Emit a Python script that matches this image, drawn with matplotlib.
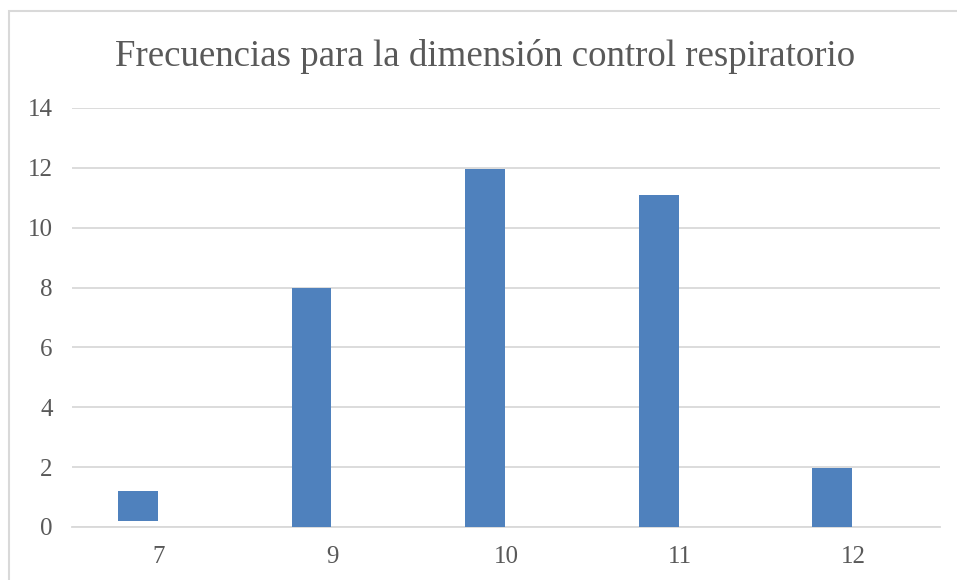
import matplotlib.pyplot as plt
from matplotlib.patches import Rectangle

categories = ['7', '9', '10', '11', '12']
frecuencias = [1.0, 8.0, 11.97, 11.1, 1.97]
bases = [0.2, 0.0, 0.0, 0.0, 0.0]
yticks = [0, 2, 4, 6, 8, 10, 12, 14]

plt.rcParams['font.family'] = ['Liberation Serif', 'DejaVu Serif']

fig = plt.figure(figsize=(9.57, 5.8), dpi=100)
ax = fig.add_axes([0.0752, 0.0914, 0.907, 0.7224])

x = list(range(len(categories)))
# bars sit left of each tick, like a clustered column chart with an empty second series
ax.bar([i - 0.12 for i in x], frecuencias, bottom=bases, width=0.23,
       color='#4F81BD', zorder=3)

ax.set_xlim(-0.5, len(categories) - 0.5)
ax.set_ylim(0, 14)
ax.set_yticks(yticks)
ax.set_xticks(x)
ax.set_xticklabels(categories)
ax.grid(axis='y', color='#D9D9D9', linewidth=1.3, zorder=0)
for s in ['top', 'right', 'left']:
    ax.spines[s].set_visible(False)
ax.spines['bottom'].set_color('#D9D9D9')
ax.spines['bottom'].set_linewidth(1.3)
ax.tick_params(length=0, labelsize=18, colors='#595959')
ax.tick_params(axis='y', pad=14)
ax.tick_params(axis='x', pad=14)

fig.suptitle('Frecuencias para la dimensión control respiratorio',
             x=0.507, y=0.903, fontsize=26.6, color='#595959', va='center')

# light frame around the chart area
fig.patches.append(Rectangle((9 / 957, -0.1), 1.2, 1 - 11 / 580 + 0.1,
                             transform=fig.transFigure, fill=False,
                             edgecolor='#D9D9D9', linewidth=1.5))

fig.savefig('out.png', dpi=100)
